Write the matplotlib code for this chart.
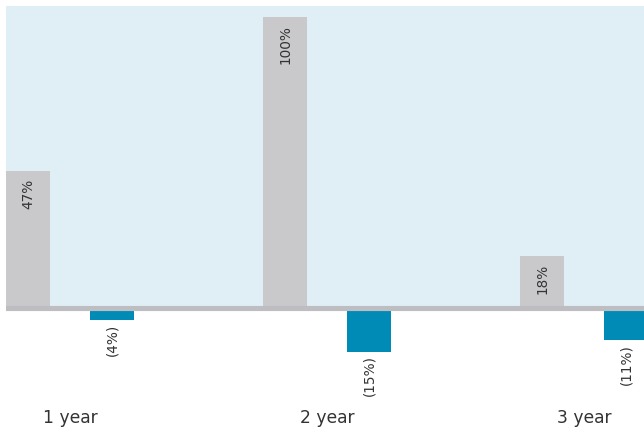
import numpy as np
import matplotlib
matplotlib.use("Agg")
import matplotlib.pyplot as plt

# horizon labels and returns (%)
periods = ["1 year", "2 year", "3 year"]
gains = [47, 100, 18]
losses = [-4, -15, -11]

GRAY = "#c9c9cb"
BLUE = "#008bb6"
PANEL = "#e0eff6"
RULE = "#bdbdc2"
TEXT = "#333333"

plt.rcParams["font.family"] = "DejaVu Sans"

fig = plt.figure(figsize=(6.44, 4.33), dpi=100)
W, H = 644, 433
ax = fig.add_axes([6 / W, 0, 638 / W, 427 / H])

x = np.arange(len(periods))
width = 0.171
offset = 0.163

ax.set_xlim(-0.249, 2.233)
ax.set_ylim(-42.9, 103.8)

# shaded panel above the zero line only
ax.axhspan(0, 103.8, color=PANEL, zorder=0, lw=0)

ax.bar(x - offset, gains, width, color=GRAY, zorder=2)
ax.bar(x + offset, losses, width, color=BLUE, zorder=2)
ax.axhline(0, color=RULE, lw=3.7, zorder=3)

for xi, g in zip(x - offset, gains):
    ax.text(xi, g - 2.6, f"{g}%", rotation=90, ha="center", va="top",
            fontsize=9.8, color=TEXT, zorder=4)
for xi, l in zip(x + offset, losses):
    ax.text(xi, l - 1.2, f"({abs(l)}%)", rotation=90, ha="center", va="top",
            fontsize=9.8, color=TEXT, zorder=4)

for xi, p in zip(x, periods):
    ax.text(xi, -37.8, p, ha="center", va="center", fontsize=12.3, color=TEXT)

ax.axis("off")
fig.savefig("out.png", dpi=100)
